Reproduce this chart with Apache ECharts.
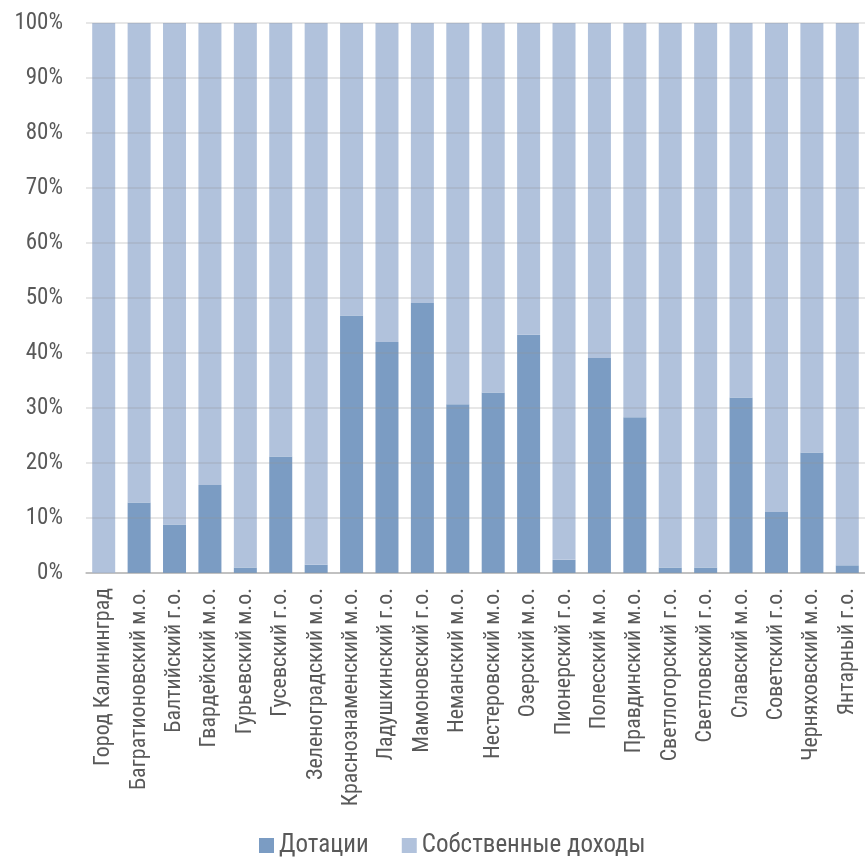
<!DOCTYPE html>
<html><head><meta charset="utf-8">
<script src="https://cdn.jsdelivr.net/npm/echarts@6/dist/echarts.min.js"></script>
<style>html,body{margin:0;padding:0;background:#fff}#c{width:865px;height:857px}</style>
</head><body><div id="c"></div>
<script>
const categories = ['Город Калининград','Багратионовский м.о.','Балтийский г.о.','Гвардейский м.о.','Гурьевский м.о.','Гусевский г.о.','Зеленоградский м.о.','Краснознаменский м.о.','Ладушкинский г.о.','Мамоновский г.о.','Неманский м.о.','Нестеровский м.о.','Озерский м.о.','Пионерский г.о.','Полесский м.о.','Правдинский м.о.','Светлогорский г.о.','Светловский г.о.','Славский м.о.','Советский г.о.','Черняховский м.о.','Янтарный г.о.'];
const dotations = [0, 12.8, 8.8, 16.0, 1.0, 21.2, 1.5, 46.8, 42.0, 49.1, 30.7, 32.8, 43.3, 2.4, 39.1, 28.3, 1.0, 1.0, 31.9, 11.1, 21.9, 1.4];
const ownIncome = [100, 87.2, 91.2, 84.0, 99.0, 78.8, 98.5, 53.2, 58.0, 50.9, 69.3, 67.2, 56.7, 97.6, 60.9, 71.7, 99.0, 99.0, 68.1, 88.9, 78.1, 98.6];
const yTicks = {min: 0, max: 100, interval: 10};

const font = '"Roboto Condensed", "Liberation Sans", sans-serif';
const chart = echarts.init(document.getElementById('c'));
chart.setOption({
  animation: false,
  grid: {left: 86, top: 23, width: 785, height: 550, containLabel: false},
  legend: {
    left: 254, top: 828, itemWidth: 15, itemHeight: 15, itemGap: 33,
    icon: 'rect',
    textStyle: {fontFamily: font, fontSize: 25, color: '#595959'},
    data: ['Дотации', 'Собственные доходы']
  },
  xAxis: {
    type: 'category', data: categories,
    axisLine: {lineStyle: {color: '#bfbfbf', width: 1.5}},
    axisTick: {show: false},
    axisLabel: {rotate: 90, interval: 0, fontFamily: font, fontSize: 22, color: '#595959', margin: 15}
  },
  yAxis: {
    type: 'value', min: yTicks.min, max: yTicks.max, interval: yTicks.interval, z: 3,
    axisLine: {show: false}, axisTick: {show: false},
    splitLine: {lineStyle: {color: 'rgba(150,150,150,0.3)', width: 1.5}},
    axisLabel: {formatter: '{value}%', fontFamily: font, fontSize: 23, color: '#595959', margin: 23}
  },
  series: [
    {name: 'Дотации', type: 'bar', stack: 's', data: dotations, barWidth: 23, itemStyle: {color: '#7b9cc3'}},
    {name: 'Собственные доходы', type: 'bar', stack: 's', data: ownIncome, barWidth: 23, itemStyle: {color: '#b1c2dc'}}
  ]
});
</script></body></html>
